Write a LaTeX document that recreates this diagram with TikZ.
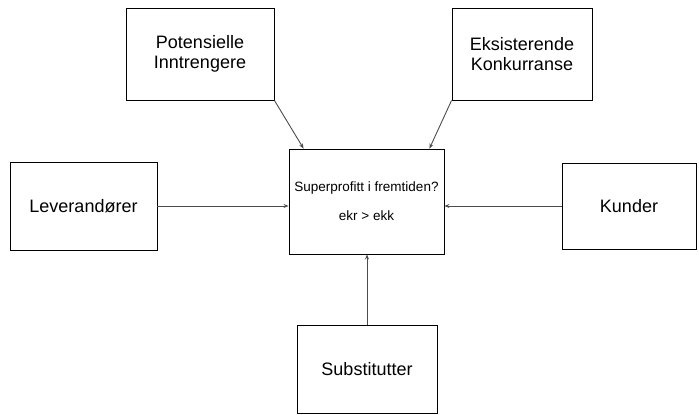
\documentclass[tikz,border=0pt]{standalone}
\usepackage{fontspec}
\setmainfont{Liberation Sans}
\usetikzlibrary{arrows.meta,calc}
\begin{document}
\begin{tikzpicture}[x=1pt,y=1pt,
  box/.style={draw=black,line width=0.9pt,inner sep=0pt,align=center,font=\fontsize{18}{20}\selectfont},
  conn/.style={draw=black!70,line width=0.9pt,-{Stealth[length=5pt,width=4pt]}}]
\useasboundingbox (0,0) rectangle (699,415);
\node[box,minimum width=148,minimum height=92] (pot) at (200,361) {Potensielle\\Inntrengere};
\node[box,minimum width=140,minimum height=92] (eks) at (522,361) {Eksisterende\\Konkurranse};
\node[box,minimum width=147,minimum height=88] (lev) at (83.5,209) {Leverandører};
\node[box,minimum width=134,minimum height=86] (kun) at (629,209) {Kunder};
\node[box,minimum width=155,minimum height=105,font=\fontsize{13.5}{15}\selectfont] (cen) at (366.5,213.5) {Superprofitt i fremtiden?\\[14pt]ekr > ekk};
\node[box,minimum width=140,minimum height=88] (sub) at (367,46) {Substitutter};
\draw[conn] (lev.east) -- (lev.east -| cen.west);
\draw[conn] (kun.west) -- (kun.west -| cen.east);
\draw[conn] (sub.north) -- (sub.north |- cen.south);
\draw[conn] (pot.south east) -- ($(cen.north west)+(15,0)$);
\draw[conn] (eks.south west) -- ($(cen.north east)+(-15,0)$);
\end{tikzpicture}
\end{document}
